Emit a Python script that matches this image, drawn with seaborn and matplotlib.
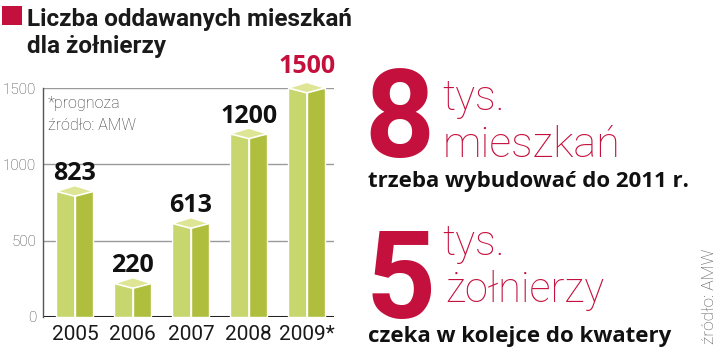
import matplotlib
matplotlib.use("Agg")
import matplotlib.pyplot as plt
from matplotlib.patches import Polygon, Rectangle
import seaborn as sns
import pandas as pd

# ---- data ----
years = ["2005", "2006", "2007", "2008", "2009*"]
values = [823, 220, 613, 1200, 1500]
forecast = [False, False, False, False, True]
yticks = [0, 500, 1000, 1500]

title_lines = ["Liczba oddawanych mieszkań", "dla żołnierzy"]
note_lines = ["*prognoza", "źródło: AMW"]
big1, unit1, what1, sub1 = "8", "tys.", "mieszkań", "trzeba wybudować do 2011 r."
big2, unit2, what2, sub2 = "5", "tys.", "żołnierzy", "czeka w kolejce do kwatery"
source = "źródło: AMW"

# ---- style ----
RED = "#c4103c"
LEFT = "#c8d66e"
RIGHT = "#b0be3e"
TOP = "#dee696"
LIGHT = ["Roboto", "DejaVu Sans"]
BOLD = ["Open Sans", "Roboto", "DejaVu Sans"]
HEAD = ["Roboto", "DejaVu Sans"]

sns.set_style("white")
plt.rcParams["font.family"] = ["Roboto", "DejaVu Sans"]

W, H = 720, 348
fig = plt.figure(figsize=(W / 100, H / 100), dpi=100)


def fx(x):
    return x / W


def fy(y):
    return 1 - y / H


# axes: x 43..334 px, y 88 (1500) .. 317 (0)
ax = fig.add_axes([fx(43), fy(317), (334 - 43) / W, (317 - 88) / H])

# bars: two faces per bar via hue dodge
rows = []
for y, v in zip(years, values):
    rows.append({"year": y, "value": v, "face": "left"})
    rows.append({"year": y, "value": v, "face": "right"})
df = pd.DataFrame(rows)

sns.barplot(data=df, x="year", y="value", hue="face", order=years,
            hue_order=["left", "right"], palette=[LEFT, RIGHT],
            width=0.64, gap=0, dodge=True, saturation=1,
            edgecolor="white", linewidth=1.0, legend=False, ax=ax, zorder=3)

ax.set_xlim(-0.55, 4.47)
ax.set_ylim(0, 1500)

# top facets computed from the bars seaborn drew
lefts = list(ax.containers[0])
rights = list(ax.containers[1])
d_front, d_back = 32, 38
for pl, pr in zip(lefts, rights):
    xl = pl.get_x()
    xm = xl + pl.get_width()
    xr = pr.get_x() + pr.get_width()
    v = pl.get_height()
    poly = Polygon([(xl, v), (xm, v - d_front), (xr, v), (xm, v + d_back)],
                   closed=True, facecolor=TOP, edgecolor="white",
                   linewidth=1.2, zorder=4, clip_on=False)
    ax.add_patch(poly)
    ax.plot([xm, xm], [0, v - d_front], color="white", lw=1.2, zorder=4.5)

# value labels
for i, (v, f) in enumerate(zip(values, forecast)):
    ax.annotate(str(v), xy=(i, v), xytext=(0, 8 if not f else 11),
                textcoords="offset points", ha="center", va="baseline",
                fontsize=18, fontweight="bold", family=BOLD,
                color=RED if f else "#111111", zorder=6, annotation_clip=False)

# axes styling
for s in ["top", "right", "bottom"]:
    ax.spines[s].set_visible(False)
ax.spines["left"].set_color("#555555")
ax.spines["left"].set_linewidth(1.0)
ax.set_yticks(yticks)
ax.set_yticklabels([str(t) for t in yticks])
ax.yaxis.grid(True, color="#9a9a9a", linewidth=1.0)
ax.set_axisbelow(True)
ax.axhline(0, color="#222222", lw=2.2, zorder=1)
ax.tick_params(axis="y", length=0, pad=5, labelsize=11, labelcolor="#444444")
ax.tick_params(axis="x", length=0, pad=6, labelsize=15, labelcolor="#1a1a1a")
for lab in ax.get_yticklabels():
    lab.set_family(LIGHT)
    lab.set_fontweight("light")
ax.set_xlabel("")
ax.set_ylabel("")

# notes inside chart
fig.text(fx(48), fy(108), note_lines[0], fontsize=11.5, family=LIGHT,
         fontweight="light", color="#333333", va="baseline")
fig.text(fx(48), fy(130), note_lines[1], fontsize=11.5, family=LIGHT,
         fontweight="light", color="#333333", va="baseline")

# title
fig.patches.append(Rectangle((fx(2), fy(25)), 20 / W, 19 / H,
                             transform=fig.transFigure, facecolor=RED,
                             edgecolor="none"))
fig.text(fx(27), fy(26), title_lines[0], fontsize=17.5, family=HEAD,
         fontweight="bold", color="#1a1a1a", va="baseline")
fig.text(fx(27), fy(53), title_lines[1], fontsize=17.5, family=HEAD,
         fontweight="bold", color="#1a1a1a", va="baseline")

# right-hand facts
fig.text(fx(364), fy(157), big1, fontsize=88, family=HEAD,
         fontweight="bold", color=RED, va="baseline")
fig.text(fx(442), fy(110), unit1, fontsize=30, family=LIGHT,
         fontweight="light", color=RED, va="baseline")
fig.text(fx(443), fy(157), what1, fontsize=31, family=LIGHT,
         fontweight="light", color=RED, va="baseline")
fig.text(fx(368), fy(187), sub1, fontsize=16, family=BOLD,
         fontweight="bold", color="#111111", va="baseline")

fig.text(fx(366), fy(318), big2, fontsize=88, family=HEAD,
         fontweight="bold", color=RED, va="baseline")
fig.text(fx(442), fy(255), unit2, fontsize=30, family=LIGHT,
         fontweight="light", color=RED, va="baseline")
fig.text(fx(445), fy(302), what2, fontsize=30, family=LIGHT,
         fontweight="light", color=RED, va="baseline")
fig.text(fx(368), fy(342), sub2, fontsize=16, family=BOLD,
         fontweight="bold", color="#111111", va="baseline")

fig.text(fx(710), fy(344), source, fontsize=12.5, family=LIGHT,
         fontweight="light", color="#555555", rotation=90,
         ha="center", va="bottom")

fig.savefig("out.png", dpi=100)
